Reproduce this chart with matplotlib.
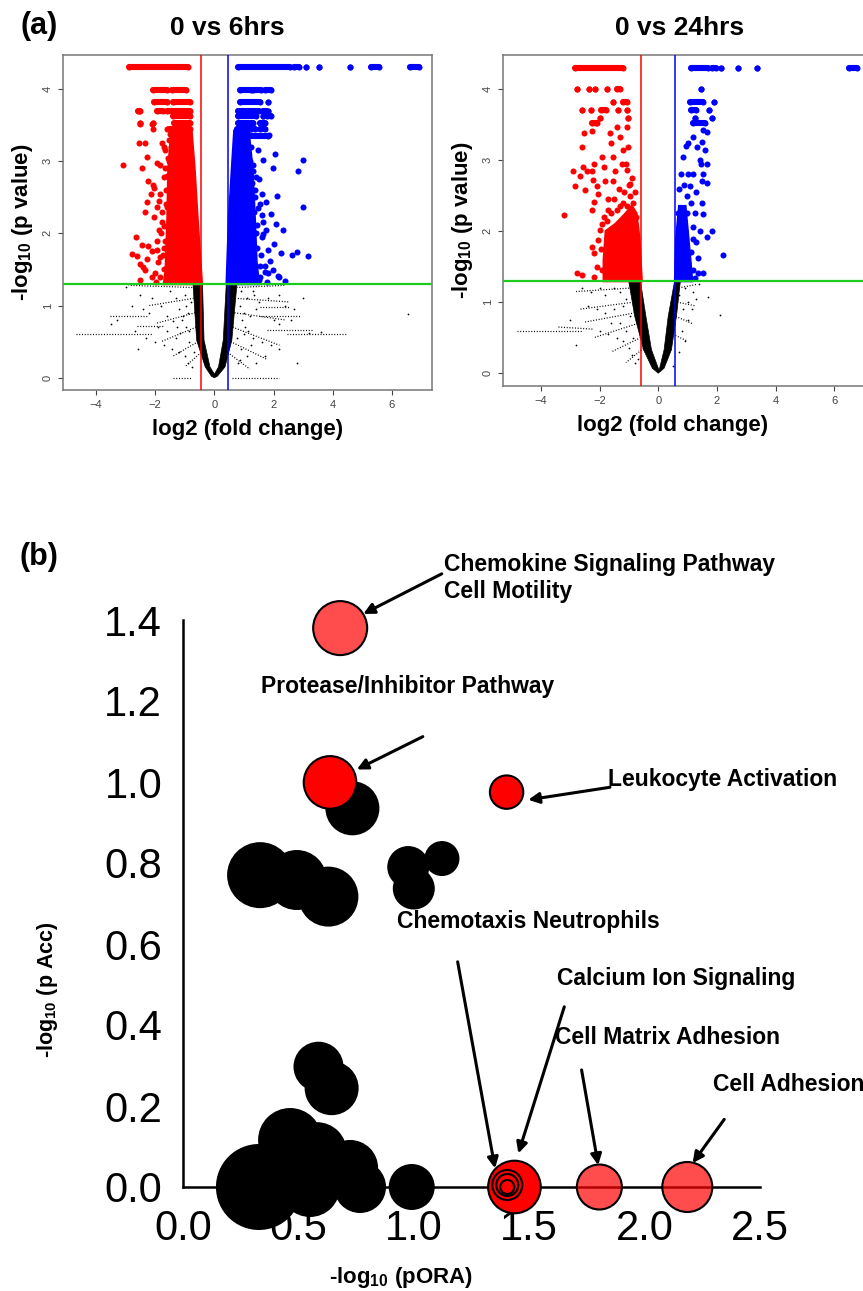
import numpy as np
import matplotlib
matplotlib.use('Agg')
import matplotlib.pyplot as plt

plt.rcParams['font.family'] = ['Liberation Sans', 'DejaVu Sans']
plt.rcParams['mathtext.fontset'] = 'custom'
plt.rcParams['mathtext.rm'] = 'Liberation Sans'
plt.rcParams['mathtext.bf'] = 'Liberation Sans:bold'

W, H = 863, 1291

# ---------------- volcano 0 vs 6hrs ----------------
v6_fc = 0.45
v6_red_x = [-3.08, -2.55, -2.51, -2.54, -2.33, -2.12, -2.06, -2.27, -2.45, -1.93, -2.23, -2.06,
            -2.15, -2.27, -1.95, -2.04, -2.34, -2.65, -2.46, -2.79, -2.62, -2.29, -2.51, -2.34,
            -2.51, -2.12, -1.84, -1.72, -1.89, -1.78, -1.61, -1.63, -1.72, -1.77, -1.54, -1.61,
            -1.84, -1.67, -2.03, -1.84, -2.43, -2.26, -1.95, -1.70,
            -1.70, -1.75, -1.68, -1.72, -1.62, -1.57, -1.60, -1.52, -1.47, -1.42, -1.85, -1.90,
            -1.80, -1.76, -2.00, -1.95, -1.88, -2.10, -1.98, -1.66, -1.58, -1.50]
v6_red_y = [2.94, 3.69, 3.52, 3.25, 3.25, 3.52, 3.45, 3.06, 2.91, 2.98, 2.72, 2.67,
            2.55, 2.44, 2.37, 2.23, 2.30, 1.95, 1.84, 1.72, 1.68, 1.65, 1.58, 1.49,
            1.35, 1.40, 1.67, 1.80, 2.05, 2.16, 2.37, 2.60, 2.78, 3.25, 3.29, 3.45,
            2.95, 3.16, 2.63, 2.55, 1.54, 1.82, 1.77, 3.20,
            1.50, 1.70, 1.90, 2.10, 2.40, 2.60, 2.80, 3.00, 3.20, 3.35, 1.40, 1.60,
            2.00, 2.30, 1.45, 1.90, 2.45, 1.75, 1.32, 2.90, 3.05, 3.38]
v6_red_env_x = [-0.43, -0.58, -0.68, -0.78, -1.45, -1.55, -1.58, -1.64, -1.70]
v6_red_env_y = [1.30, 2.23, 2.91, 3.42, 3.42, 2.91, 2.23, 1.50, 1.30]
v6_red_row_y = [4.30, 3.99, 3.99, 3.82, 3.82, 3.69, 3.69, 3.69, 3.62, 3.53, 3.53, 3.53, 3.45]
v6_red_row_x0 = [-2.88, -2.06, -1.42, -2.04, -1.39, -2.60, -1.93, -1.59, -1.39, -2.51, -2.08, -1.37, -1.54]
v6_red_row_x1 = [-0.90, -1.61, -0.96, -1.59, -0.83, -2.51, -1.75, -0.83, -0.81, -2.51, -2.08, -0.81, -0.81]

v6_blue_x = [2.05, 2.99, 1.97, 2.82, 2.99, 2.13, 1.60, 1.75, 1.91, 1.55, 2.09, 2.31, 1.45,
             1.66, 2.02, 1.83, 2.26, 2.62, 2.81, 3.18, 1.88, 1.99, 2.20, 2.39, 1.71, 1.55,
             1.77, 1.38, 1.49, 1.66, 1.42, 1.31, 1.25, 1.84, 2.14,
             1.50, 1.55, 1.45, 1.40, 1.35, 1.28, 1.22, 1.60, 1.65, 1.70, 1.48, 1.52, 1.36,
             1.30, 1.58, 1.62, 1.75, 1.80]
v6_blue_y = [3.10, 3.02, 2.91, 2.87, 2.37, 2.52, 2.54, 2.44, 2.27, 2.40, 2.13, 2.05, 2.11,
             1.99, 1.85, 1.77, 1.73, 1.70, 1.74, 1.68, 1.61, 1.49, 1.40, 1.34, 1.47, 1.40,
             1.33, 2.60, 3.15, 3.02, 2.78, 2.86, 3.20, 3.36, 1.41,
             1.35, 1.55, 1.80, 2.00, 2.30, 2.70, 3.00, 1.95, 2.15, 1.55, 2.35, 2.75, 2.50,
             2.95, 1.70, 2.25, 2.05, 1.45]
v6_blue_env_x = [0.42, 0.50, 0.60, 0.68, 1.15, 1.28, 1.36, 1.42, 1.50]
v6_blue_env_y = [1.30, 2.20, 2.90, 3.42, 3.42, 2.90, 2.20, 1.60, 1.30]
v6_blue_row_y = [4.30, 4.30, 4.30, 4.30, 4.30, 4.30, 4.30, 3.99, 3.99, 3.99, 3.82, 3.82,
                 3.69, 3.69, 3.69, 3.62, 3.62, 3.62, 3.53, 3.53, 3.53, 3.45, 3.45, 3.45, 3.35]
v6_blue_row_x0 = [0.81, 2.70, 3.09, 3.55, 4.59, 5.30, 6.62, 0.85, 1.32, 1.71, 0.85, 1.80,
                  0.81, 1.66, 1.80, 0.81, 1.66, 1.78, 0.81, 1.20, 1.55, 0.78, 1.25, 1.55, 1.15]
v6_blue_row_x1 = [2.56, 2.86, 3.09, 3.55, 4.59, 5.58, 6.93, 1.23, 1.58, 1.92, 1.55, 1.80,
                  1.50, 1.73, 1.80, 1.40, 1.66, 1.90, 1.30, 1.20, 1.72, 1.20, 1.36, 1.72, 1.83]

v6_v_x = [-0.72, -0.60, -0.31, -0.10, 0.00, 0.10, 0.36, 0.59, 0.76,
          0.40, 0.30, 0.14, 0.00, -0.15, -0.35, -0.40]
v6_v_y = [1.28, 0.52, 0.15, 0.02, 0.00, 0.02, 0.15, 0.52, 1.28,
          1.28, 0.52, 0.15, 0.05, 0.15, 0.52, 1.28]
# dotted rays of the non-significant cloud (start x, start y, end x, end y)
v6_ray_x0 = [-4.68, -3.53, -2.62, 2.45, 1.55, 1.77, 1.55, -0.75, -0.70, -0.65, -0.62, -0.55,
             -0.45, 0.75, 0.70, 0.68, 0.62, 0.55, 0.45, -1.40, 0.60]
v6_ray_y0 = [0.60, 0.85, 0.72, 0.60, 0.85, 0.66, 0.98, 1.25, 1.10, 0.90, 0.70, 0.50,
             0.35, 1.25, 1.10, 0.90, 0.70, 0.50, 0.35, 0.00, 0.00]
v6_ray_x1 = [-2.06, -2.29, -1.72, 4.48, 2.90, 3.35, 2.56, -2.90, -2.20, -2.00, -1.80, -1.40,
             -1.00, 2.40, 2.50, 2.40, 2.20, 1.80, 1.20, -0.80, 2.20]
v6_ray_y1 = [0.60, 0.85, 0.72, 0.60, 0.85, 0.66, 0.98, 1.28, 1.00, 0.75, 0.50, 0.30,
             0.15, 1.28, 1.05, 0.80, 0.45, 0.25, 0.12, 0.00, 0.00]
v6_black_x = [-3.0, -2.5, -2.1, -1.8, -1.5, -1.3, -1.2, -1.0, -2.8, -2.4, -1.6, -1.4, -1.1, -0.9,
              -2.0, -1.7, -1.45, -1.2, -1.0, -0.85, -1.3, -0.9, -0.75, -0.7, -1.6, -1.9, -2.3,
              -2.6, -3.3, -3.5, 0.9, 1.1, 1.3, 1.5,
              1.8, 2.2, 2.4, 1.0, 1.2, 1.4, 2.0, 2.2, 2.6, 1.0, 1.3, 1.6, 1.9, 2.2, 0.9, 1.1,
              1.4, 0.8, 3.2, 3.6, 6.56, 2.8, 1.7, -1.15, -0.95, -0.8, 0.85, 1.05, 0.75, 1.25,
              -0.95, -1.05, -0.85, -1.25, 0.95, 1.15, 0.88, 1.35, -2.2, -2.7, 2.7, 3.0]
v6_black_y = [1.25, 1.15, 1.10, 1.00, 1.20, 1.10, 0.95, 1.15, 1.00, 0.95, 0.85, 0.78, 0.80, 0.90,
              0.50, 0.45, 0.40, 0.35, 0.30, 0.50, 0.55, 0.20, 0.15, 0.35, 0.65, 0.70, 0.55,
              0.40, 0.80, 0.75, 1.20, 1.10, 1.20, 1.05,
              1.10, 1.15, 1.00, 0.90, 0.85, 0.95, 0.80, 0.75, 0.80, 0.60, 0.55, 0.50, 0.45, 0.40, 0.40, 0.30,
              0.20, 0.20, 0.62, 0.64, 0.88, 0.20, 0.30, 0.62, 0.70, 1.05, 1.00, 0.70, 0.55, 0.45,
              1.00, 0.85, 0.65, 0.70, 0.80, 0.65, 0.25, 1.15, 0.90, 0.65, 0.95, 1.10]

# ---------------- volcano 0 vs 24hrs ----------------
v24_fc = 0.585
v24_red_x = [-3.21, -2.90, -2.82, -2.67, -2.56, -2.44, -2.27, -2.50, -2.22, -2.27, -2.20, -2.10,
             -2.04, -1.93, -1.85, -1.81, -1.65, -1.60, -1.53, -1.42, -1.47, -1.31, -1.19, -1.08,
             -1.02, -1.08, -0.96, -1.25, -2.18, -2.61, -2.53, -2.12, -2.27, -2.78, -2.61, -2.27,
             -2.20, -1.99, -2.04, -2.10, -1.93, -2.20, -1.70, -1.35, -0.90, -1.15, -1.55, -0.85,
             -0.95, -1.05, -1.20, -1.40, -1.60, -1.75, -1.90, -1.95, -0.80, -1.00, -1.30, -1.50,
             -1.10, -0.75, -1.70, -1.85]
v24_red_y = [2.23, 2.84, 2.63, 2.77, 2.91, 2.84, 2.84, 2.58, 2.72, 2.30, 2.41, 2.63,
             2.53, 3.05, 2.91, 2.70, 3.38, 3.24, 3.05, 3.47, 2.84, 3.33, 3.14, 3.47,
             3.19, 2.86, 2.67, 2.95, 2.95, 3.19, 3.38, 3.52, 3.41, 1.41, 1.38, 1.78,
             1.69, 2.02, 1.88, 1.50, 1.45, 1.35, 2.45, 2.60, 2.75, 2.55, 2.70, 2.40,
             2.50, 2.35, 2.40, 2.30, 2.25, 2.15, 2.10, 1.75, 2.55, 2.65, 2.35, 2.45,
             2.95, 2.20, 2.30, 2.20]
v24_red_env_x = [-0.57, -0.65, -0.75, -0.90, -1.10, -1.45, -1.78, -1.85, -1.85]
v24_red_env_y = [1.30, 1.90, 2.25, 2.35, 2.25, 2.10, 2.00, 1.60, 1.30]
v24_red_row_y = [4.30, 4.00, 4.00, 4.00, 4.00, 4.00, 3.82, 3.82, 3.70, 3.70, 3.70, 3.70, 3.70,
                 3.60, 3.60, 3.52]
v24_red_row_x0 = [-2.84, -2.78, -2.36, -2.16, -1.76, -1.42, -1.55, -1.19, -2.61, -2.30, -1.96,
                  -1.36, -1.08, -1.99, -1.02, -2.27]
v24_red_row_x1 = [-1.19, -2.78, -2.36, -2.16, -1.76, -1.31, -1.55, -1.06, -2.61, -2.30, -1.79,
                  -1.36, -1.08, -1.99, -1.02, -2.10]

v24_blue_x = [1.02, 1.19, 1.31, 1.48, 1.54, 1.65, 1.59, 1.42, 1.65, 1.54, 1.19, 1.02, 1.08, 0.97,
              1.48, 1.65, 1.48, 1.25, 0.97, 0.91, 1.19, 1.54, 1.82, 1.65, 1.42, 1.19, 0.85, 0.74,
              2.22, 1.36, 1.02, 0.90, 1.19, 1.54, 1.36, 1.25, 1.02, 0.74, 1.30, 1.45, 0.80, 0.70,
              0.65, 0.68, 0.72, 0.78, 0.85, 0.88, 0.95, 1.10, 1.12, 1.28]
v24_blue_y = [3.24, 3.33, 3.19, 3.25, 3.42, 3.39, 3.14, 3.00, 2.95, 2.81, 2.81, 2.81, 2.63, 2.49,
              2.70, 2.68, 2.39, 2.25, 2.25, 2.02, 2.06, 2.24, 2.00, 1.92, 2.00, 1.89, 1.78, 1.69,
              1.66, 1.62, 1.55, 1.50, 1.45, 1.41, 1.41, 1.34, 1.36, 1.40, 2.55, 2.95, 2.15, 1.95,
              1.55, 2.25, 2.60, 2.80, 3.05, 2.65, 3.20, 2.40, 1.70, 1.85]
v24_blue_env_x = [0.58, 0.62, 0.72, 0.92, 1.02, 1.15]
v24_blue_env_y = [1.30, 1.90, 2.35, 2.35, 1.90, 1.30]
v24_blue_row_y = [4.30, 4.30, 4.30, 4.30, 4.30, 4.30, 4.00, 3.82, 3.82, 3.70, 3.70, 3.60, 3.60, 3.52]
v24_blue_row_x0 = [1.10, 1.82, 2.14, 2.71, 3.36, 6.49, 1.45, 1.08, 1.90, 1.13, 1.73, 1.25, 1.82, 1.19]
v24_blue_row_x1 = [1.70, 1.97, 2.14, 2.71, 3.36, 6.77, 1.45, 1.53, 1.90, 1.28, 1.73, 1.25, 1.82, 1.60]

v24_v_x = [-1.00, -0.80, -0.50, -0.20, 0.00, 0.20, 0.45, 0.62, 0.75,
           0.55, 0.34, 0.20, 0.03, -0.23, -0.42, -0.60]
v24_v_y = [1.28, 0.80, 0.33, 0.07, 0.00, 0.07, 0.33, 0.80, 1.28,
           1.28, 0.80, 0.33, 0.04, 0.33, 0.80, 1.28]
v24_ray_x0 = [-4.83, -3.40, -0.90, -0.85, -0.80, -0.70, -0.60, -0.50, 0.70, 0.65, 0.60, 0.50]
v24_ray_y0 = [0.60, 0.65, 1.20, 1.00, 0.85, 0.70, 0.50, 0.35, 1.20, 1.00, 0.80, 0.55]
v24_ray_x1 = [-2.60, -2.20, -2.80, -2.70, -2.50, -2.20, -1.60, -1.10, 1.30, 1.25, 1.15, 1.00]
v24_ray_y1 = [0.60, 0.62, 1.15, 0.90, 0.72, 0.50, 0.30, 0.15, 1.25, 0.95, 0.70, 0.45]
v24_black_x = [-2.6, -2.3, -2.0, -1.8, -1.5, -1.3, -2.4, -2.1, -1.8, -1.5, -1.2, -2.0, -1.7, -1.4,
               -1.2, -1.0, -0.9, -1.1, -1.3, -1.6, -0.85, -0.8, -0.7, 0.7, 0.9, 1.0, 1.2, 1.3,
               0.85, 1.0, 1.15, 0.8, 0.9, 0.7, 0.5, 1.7, 2.1, 1.4, -2.8, -3.0, -1.1, -0.95]
v24_black_y = [1.20, 1.15, 1.20, 1.10, 1.20, 1.15, 0.95, 0.90, 0.85, 0.90, 0.95, 0.60, 0.55, 0.50,
               0.45, 0.35, 0.25, 0.60, 0.70, 0.70, 0.50, 0.15, 0.20, 1.10, 1.20, 1.00, 1.15, 1.05,
               0.90, 0.75, 0.90, 0.60, 0.45, 0.30, 0.10, 1.08, 0.82, 1.25, 0.40, 0.75, 1.05, 0.80]

# ---------------- bubble chart ----------------
bub_black_x = [0.734, 0.334, 0.493, 0.630, 0.976, 1.122, 1.000, 0.587, 0.644, 0.329, 0.464,
               0.580, 0.724, 0.767, 0.550, 0.991]
bub_black_y = [0.935, 0.770, 0.758, 0.717, 0.790, 0.811, 0.737, 0.297, 0.244, 0.000, 0.116,
               0.086, 0.047, 0.000, 0.000, 0.000]
bub_black_size = [27, 33, 30, 30, 21, 17.5, 21, 25, 27, 43, 32, 30, 28, 26, 30, 23]
bub_sig_x = [0.681, 1.804, 2.185, 0.637, 1.402, 1.436, 1.405, 1.405, 1.405]
bub_sig_y = [1.380, 0.000, 0.000, 0.999, 0.975, 0.000, 0.005, 0.005, 0.000]
bub_sig_size = [27, 22.5, 25, 26.3, 16.7, 26.3, 15, 11, 7]
bub_sig_light = [True, True, True, False, False, False, False, False, False]

x_ticks_b = [0.0, 0.5, 1.0, 1.5, 2.0, 2.5]
y_ticks_b = [0.0, 0.2, 0.4, 0.6, 0.8, 1.0, 1.2, 1.4]


def px_axes(fig, left, top, right, bottom):
    return fig.add_axes([left / W, 1 - bottom / H, (right - left) / W, (bottom - top) / H])


def draw_volcano(ax, v, xlim, ylim):
    ax.fill(v['v_x'], v['v_y'], color='black', lw=0.5, zorder=1)
    for x0, y0, x1, y1 in zip(v['ray_x0'], v['ray_y0'], v['ray_x1'], v['ray_y1']):
        ax.plot([x0, x1], [y0, y1], color='black', lw=0.9, ls=(0, (0.8, 1.4)), zorder=1)
    ax.scatter(v['black_x'], v['black_y'], s=1.6, c='black', lw=0, zorder=1)
    for name, col in (('red', '#FF0000'), ('blue', '#0000FF')):
        ax.fill(v[name + '_env_x'], v[name + '_env_y'], color=col, lw=2, zorder=2)
        ax.scatter(v[name + '_x'], v[name + '_y'], s=19, c=col, lw=0, zorder=2)
        rx0, rx1, ry = v[name + '_row_x0'], v[name + '_row_x1'], v[name + '_row_y']
        for y, x0, x1 in zip(ry, rx0, rx1):
            ax.plot([x0, x1], [y, y], color=col, lw=4.4, solid_capstyle='round', zorder=2)
        ax.scatter(rx0 + rx1, ry + ry, s=19, c=col, lw=0, zorder=2)
    ax.axvline(-v['fc'], color='#FF0000', lw=1.1, zorder=3)
    ax.axvline(v['fc'], color='#0000FF', lw=1.1, zorder=3)
    ax.axhline(1.3, color='#1ECC1E', lw=1.6, zorder=3)
    ax.set_xlim(*xlim)
    ax.set_ylim(*ylim)
    ax.set_xticks([-4, -2, 0, 2, 4, 6])
    ax.set_yticks([0, 1, 2, 3, 4])
    ax.tick_params(labelsize=8, colors='#444444', length=3.5, width=0.8, pad=4)
    for lab in ax.get_yticklabels():
        lab.set_rotation(90)
        lab.set_va('center')
    for sp in ax.spines.values():
        sp.set_color('#777777')
        sp.set_linewidth(1.1)
    ax.set_xlabel('log2 (fold change)', fontsize=16, fontweight='bold', labelpad=6)
    ax.set_ylabel(r'-log$_{\mathbf{10}}$ (p value)', fontsize=16, fontweight='bold', labelpad=6)


def vdata(prefix, fc):
    g = globals()
    keys = ['red_x', 'red_y', 'red_env_x', 'red_env_y', 'red_row_y', 'red_row_x0', 'red_row_x1',
            'blue_x', 'blue_y', 'blue_env_x', 'blue_env_y', 'blue_row_y', 'blue_row_x0',
            'blue_row_x1', 'v_x', 'v_y', 'ray_x0', 'ray_y0', 'ray_x1', 'ray_y1',
            'black_x', 'black_y']
    d = {k: g[prefix + k] for k in keys}
    d['fc'] = fc
    return d


fig = plt.figure(figsize=(W / 100, H / 100), dpi=100)

ax1 = px_axes(fig, 63.3, 55, 431.7, 390)
draw_volcano(ax1, vdata('v6_', v6_fc), (-5.11, 7.35), (-0.17, 4.47))

ax2 = px_axes(fig, 503.3, 55, 869.5, 386)
draw_volcano(ax2, vdata('v24_', v24_fc), (-5.28, 7.2), (-0.18, 4.48))
ax2.xaxis.label.set_x(0.463)

fig.text(227 / W, 1 - 28 / H, '0 vs 6hrs', fontsize=19, fontweight='bold', ha='center', va='center')
fig.text(680 / W, 1 - 28 / H, '0 vs 24hrs', fontsize=19, fontweight='bold', ha='center', va='center')
fig.text(39 / W, 1 - 26 / H, '(a)', fontsize=22, fontweight='bold', ha='center', va='center')
fig.text(39 / W, 1 - 557 / H, '(b)', fontsize=22, fontweight='bold', ha='center', va='center')

# bubble chart
ax3 = px_axes(fig, 183, 620, 760, 1187)
ax3.set_xlim(0, 2.5)
ax3.set_ylim(0, 1.4)
ax3.scatter(bub_black_x, bub_black_y, s=[(1.44 * r) ** 2 for r in bub_black_size],
            c='black', lw=0, zorder=3, clip_on=False)
fc_sig = [(1, 0, 0, 0.7) if lt else (1, 0, 0, 1) for lt in bub_sig_light]
ax3.scatter(bub_sig_x, bub_sig_y, s=[(1.44 * r) ** 2 for r in bub_sig_size],
            c=fc_sig, edgecolors='black', lw=1.5, zorder=4, clip_on=False)

for s in ('top', 'right'):
    ax3.spines[s].set_visible(False)
for s in ('left', 'bottom'):
    ax3.spines[s].set_linewidth(1.8)
ax3.set_xticks(x_ticks_b)
ax3.set_xticklabels([f'{t:.1f}' for t in x_ticks_b])
ax3.set_yticks(y_ticks_b)
ax3.set_yticklabels([f'{t:.1f}' for t in y_ticks_b])
ax3.tick_params(axis='both', which='major', length=0, labelsize=30)
ax3.tick_params(axis='x', which='major', pad=16)
ax3.tick_params(axis='y', which='major', pad=15)
ax3.set_xticks([0, 2.5], minor=True)
ax3.set_yticks([0, 1.4], minor=True)
ax3.tick_params(which='minor', length=9, width=1.8, direction='out')

fig.text(401 / W, 1 - 1278 / H, r'-log$_{\mathbf{10}}$ (pORA)', fontsize=16, fontweight='bold',
         ha='center', va='center')
fig.text(48 / W, 1 - 990 / H, r'-log$_{\mathbf{10}}$ (p Acc)', fontsize=15.5, fontweight='bold',
         ha='center', va='center', rotation=90)

# annotations: (label, text pos, arrow tail, arrow head)
notes = [
    ('Chemokine Signaling Pathway\nCell Motility', (1.132, 1.504), (1.121, 1.514), (0.781, 1.415)),
    ('Protease/Inhibitor Pathway', (0.338, 1.235), (1.039, 1.112), (0.753, 1.031)),
    ('Leukocyte Activation', (1.843, 1.005), (1.850, 0.987), (1.496, 0.956)),
    ('Chemotaxis Neutrophils', (0.929, 0.655), (1.190, 0.556), (1.352, 0.046)),
    ('Calcium Ion Signaling', (1.619, 0.515), (1.652, 0.445), (1.453, 0.083)),
    ('Cell Matrix Adhesion', (1.612, 0.370), (1.727, 0.289), (1.799, 0.054)),
    ('Cell Adhesion', (2.298, 0.252), (2.345, 0.167), (2.208, 0.059)),
]
for label, tpos, tail, head in notes:
    ax3.text(tpos[0], tpos[1], label, fontsize=16.5, fontweight='bold', ha='left', va='center',
             linespacing=1.25, clip_on=False, zorder=5)
    ax3.annotate('', xy=head, xytext=tail,
                 arrowprops=dict(arrowstyle='-|>', lw=2.2, color='black', mutation_scale=16,
                                 shrinkA=0, shrinkB=0),
                 annotation_clip=False, zorder=5)

fig.savefig('out.png', dpi=100)
